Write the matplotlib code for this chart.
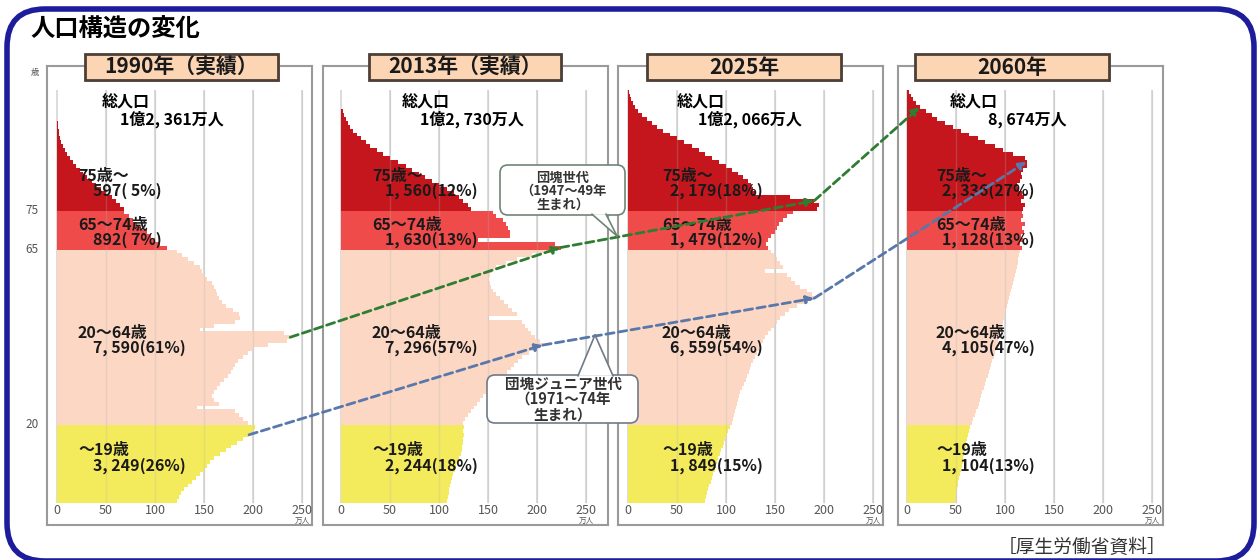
import numpy as np
import matplotlib
matplotlib.use('Agg')
import matplotlib.pyplot as plt
import matplotlib.patches as patches
from matplotlib.patches import ConnectionPatch

plt.rcParams['font.family'] = ['Noto Sans CJK JP', 'DejaVu Sans']

# ---- data (万人, index = age in years) ----
years = [1990, 2013, 2025, 2060]
headers = ['1990年（実績）', '2013年（実績）', '2025年', '2060年']

pop_1990 = [122, 124, 127, 130, 134, 138, 142, 146, 150, 153,
            156, 160, 166, 172, 178, 184, 190, 196, 200, 202,
            195, 190, 186, 182, 143, 165, 160, 158, 160, 163,
            166, 170, 174, 178, 180, 182, 185, 190, 195, 200,
            215, 235, 238, 232, 146, 160, 182, 187, 186, 180,
            172, 168, 165, 163, 162, 160, 158, 153, 150, 148,
            146, 140, 134, 128, 122,
            112, 105, 100, 96, 92, 86, 82, 78, 73, 68,
            68, 64, 60, 56, 50, 45, 40, 36, 31, 27,
            23, 19, 16, 13, 10, 8, 6, 4.5, 3.5, 2.5,
            1.8, 1.2, 0.8, 0.5, 0.3, 0.2]

pop_2013 = [108, 109, 110, 110, 111, 112, 113, 114, 116, 117,
            119, 120, 122, 123, 123, 124, 125, 126, 124, 126,
            124, 127, 130, 133, 136, 139, 142, 145, 148, 152,
            156, 160, 165, 169, 173, 177, 181, 185, 192, 200,
            206, 203, 198, 194, 191, 188, 185, 150, 180, 175,
            170, 166, 162, 158, 155, 153, 152, 151, 152, 154,
            158, 168, 180, 195, 215,
            224, 218, 140, 172, 172, 170, 168, 165, 158, 155,
            133, 130, 125, 120, 115, 108, 100, 93, 86, 80,
            72, 66, 58, 50, 43, 37, 30, 25, 20, 16,
            12, 9, 7, 5, 3, 2]

pop_2025 = [79, 80, 81, 82, 83, 85, 86, 87, 89, 90,
            91, 92, 94, 95, 97, 98, 99, 101, 102, 104,
            106, 107, 108, 109, 110, 111, 112, 113, 114, 116,
            118, 120, 121, 123, 125, 126, 128, 130, 132, 134,
            136, 138, 140, 143, 146, 149, 152, 155, 160, 164,
            172, 182, 190, 188, 183, 176, 170, 166, 162, 140,
            158, 155, 152, 149, 146,
            143, 141, 143, 146, 150, 152, 154, 158, 162, 168,
            193, 195, 190, 165, 130, 128, 126, 122, 117, 112,
            106, 100, 93, 86, 79, 72, 65, 57, 50, 43,
            36, 30, 24, 19, 14, 10, 7, 5, 3, 2, 1]

pop_2060 = [49, 50, 50, 51, 52, 52, 53, 54, 55, 56,
            57, 57, 58, 59, 60, 60, 61, 62, 63, 64,
            66, 67, 69, 70, 72, 73, 74, 76, 77, 79,
            80, 81, 83, 84, 85, 86, 87, 89, 90, 91,
            92, 93, 94, 95, 96, 97, 98, 99, 100, 101,
            102, 103, 104, 105, 106, 107, 108, 109, 110, 111,
            112, 113, 113, 114, 115,
            117, 115, 118, 116, 119, 117, 120, 116, 118, 117,
            118, 120, 116, 119, 117, 114, 112, 115, 117, 116,
            118, 122, 122, 120, 108, 98, 90, 80, 72, 63,
            55, 47, 39, 31, 25, 19, 13, 9, 6, 4, 2]

pops = [pop_1990, pop_2013, pop_2025, pop_2060]

totals = ['1億2, 361万人', '1億2, 730万人', '1億2, 066万人', '8, 674万人']
group_names = ['75歳〜', '65〜74歳', '20〜64歳', '〜19歳']
group_lo = [75, 65, 20, 0]
group_pop = [[597, 892, 7590, 3249],
             [1560, 1630, 7296, 2244],
             [2179, 1479, 6559, 1849],
             [2336, 1128, 4105, 1104]]
group_pct = [[5, 7, 61, 26],
             [12, 13, 57, 18],
             [18, 12, 54, 15],
             [27, 13, 47, 13]]
x_ticks = [0, 50, 100, 150, 200, 250]
age_ticks = [75, 65, 20]
dankai = (1947, 1949)      # 団塊世代
junior = (1971, 1974)      # 団塊ジュニア世代

# ---- layout (pixels on the 1260x560 canvas) ----
W, H = 1260, 560
group_colors = ['#c5161d', '#ef4b4b', '#fbd7c4', '#f4eb5c']
box_x = [(47, 312), (323, 608), (618, 883), (898, 1163)]
zero_x = [57, 341, 628, 907]
box_top, box_bot = 66, 525
age0_y = 503
px_unit = 0.98
px_year = 3.9
head_x = [(85, 278), (369, 561), (647, 841), (915, 1109)]
name_dx = [(45, 63), (61, 79), (49, 70), (43, 81)]
label_dx = [(21, 36), (31, 44), (34, 42), (29, 35)]
name_age = (103.0, 98.3)
label_age = [(83.8, 80.0), (71.3, 67.4), (43.6, 39.7), (13.6, 9.5)]
FS = 11.5


def band_color(age):
    for lo, c in zip(group_lo, group_colors):
        if age >= lo:
            return c


def fmt(v, p):
    return '{:,}'.format(v).replace(',', ', ') + '(%2d%%)' % p


fig = plt.figure(figsize=(W / 100, H / 100), dpi=100)

bg = fig.add_axes([0, 0, 1, 1], zorder=0)
bg.set_xlim(0, W)
bg.set_ylim(H, 0)
bg.axis('off')

fg = fig.add_axes([0, 0, 1, 1], zorder=10)
fg.set_xlim(0, W)
fg.set_ylim(H, 0)
fg.axis('off')

# outer rounded frame
bg.add_patch(patches.FancyBboxPatch((7, 9), W - 13, H - 8,
                                    boxstyle='round,pad=0,rounding_size=38',
                                    fc='none', ec='#1d1d9c', lw=4))
bg.text(30, 30, '人口構造の変化', fontsize=17.5, fontweight='bold',
        ha='left', va='center')
bg.text(1166, 547, '［厚生労働省資料］', fontsize=13.5, color='#333333',
        ha='right', va='center')

axes = []
for i, pop in enumerate(pops):
    l, r = box_x[i]
    ax = fig.add_axes([l / W, (H - box_bot) / H, (r - l) / W, (box_bot - box_top) / H],
                      zorder=1)
    ax.set_xlim((l - zero_x[i]) / px_unit, (r - zero_x[i]) / px_unit)
    ax.set_ylim((age0_y - box_bot) / px_year, (age0_y - box_top) / px_year)
    ax.set_xticks([])
    ax.set_yticks([])
    for s in ax.spines.values():
        s.set_color('#9a9a9a')
        s.set_linewidth(1.5)

    ax.vlines(x_ticks, 0, 106, colors='#d6d6d6', lw=1.2, zorder=0.5)
    ages = np.arange(len(pop))
    cols = [band_color(a) for a in ages]
    ax.barh(ages, pop, height=1, align='edge', color=cols, linewidth=0,
            antialiased=False, zorder=1)
    ax.vlines(x_ticks[1:], 0, 106, colors='#b0b0b0', lw=1.0, alpha=0.25, zorder=2)

    for t in x_ticks:
        ax.text(t, -1.9, str(t), ha='center', va='center', fontsize=9,
                color='#555555')
    ax.text(x_ticks[-1], -4.5, '万人', ha='center', va='center', fontsize=5.5,
            color='#555555')

    ax.text(name_dx[i][0] / px_unit, name_age[0], '総人口', fontsize=FS,
            fontweight='bold', va='center', ha='left', zorder=3)
    ax.text(name_dx[i][1] / px_unit, name_age[1], totals[i], fontsize=FS,
            fontweight='bold', va='center', ha='left', zorder=3)
    for g in range(4):
        ax.text(label_dx[i][0] / px_unit, label_age[g][0], group_names[g],
                fontsize=FS, fontweight='bold', va='center', ha='left',
                color='#1a1a1a', zorder=3)
        ax.text(label_dx[i][1] / px_unit, label_age[g][1],
                fmt(group_pop[i][g], group_pct[i][g]),
                fontsize=FS, fontweight='bold', va='center', ha='left',
                color='#1a1a1a', zorder=3)
    axes.append(ax)

# age labels on the first panel
ax0 = axes[0]
for a in age_ticks:
    ax0.text(-25 / px_unit, a, str(a), ha='center', va='center', fontsize=8.5,
             color='#555555', clip_on=False)
ax0.text(-22 / px_unit, (age0_y - 72) / px_year, '歳', ha='center', va='center',
         fontsize=6, color='#555555', clip_on=False)

# year headers
for i, (x0, x1) in enumerate(head_x):
    fg.add_patch(patches.Rectangle((x0 + 2, 56), x1 - x0, 26, fc='#bdbdbd', ec='none'))
    fg.add_patch(patches.Rectangle((x0, 54), x1 - x0, 26, fc='#fcd5b5',
                                   ec='#4d3f36', lw=2))
    fg.text((x0 + x1) / 2, 67.5, headers[i], fontsize=15, fontweight='bold',
            ha='center', va='center', color='#1a1a1a')


# cohort arrows
def cohort_point(k, born, top_age=101):
    age = int(years[k] - (born[0] + born[1]) / 2)
    age = min(age, top_age)
    return (pops[k][age], age + 0.5)


for born, color in [(dankai, '#2f7d32'), (junior, '#5877ab')]:
    for k in range(3):
        con = ConnectionPatch(xyA=cohort_point(k, born), coordsA=axes[k].transData,
                              xyB=cohort_point(k + 1, born), coordsB=axes[k + 1].transData,
                              arrowstyle='-|>', mutation_scale=11, color=color,
                              lw=2, linestyle=(0, (3, 1.6)), shrinkA=0, shrinkB=0,
                              zorder=5)
        fig.add_artist(con)


# call-out boxes
def callout(x0, y0, x1, y1, tail, ec, text, center, fs, ls):
    fg.add_patch(patches.FancyBboxPatch((x0, y0), x1 - x0, y1 - y0,
                                        boxstyle='round,pad=0,rounding_size=8',
                                        fc='white', ec=ec, lw=1.2))
    fg.add_patch(patches.Polygon(tail, closed=True, fc='white', ec='none'))
    fg.plot([tail[0][0], tail[2][0]], [tail[0][1], tail[2][1]], color=ec, lw=1.2)
    fg.plot([tail[1][0], tail[2][0]], [tail[1][1], tail[2][1]], color=ec, lw=1.2)
    fg.text(center[0], center[1], text, fontsize=fs, fontweight='bold',
            ha='center', va='center', multialignment='center',
            linespacing=ls, color='#333333')


callout(500, 165, 625, 215, [(592, 214.2), (606, 214.2), (617, 236)], '#6f8577',
        '団塊世代\n（1947〜49年\n生まれ）', (563, 191), 9.5, 0.95)
callout(487, 375, 638, 423, [(578, 375.8), (613, 375.8), (595, 335)], '#6f7a88',
        '団塊ジュニア世代\n（1971〜74年\n生まれ）', (563, 399), 10.5, 0.95)

fig.savefig('out.png', dpi=100, facecolor='white')
